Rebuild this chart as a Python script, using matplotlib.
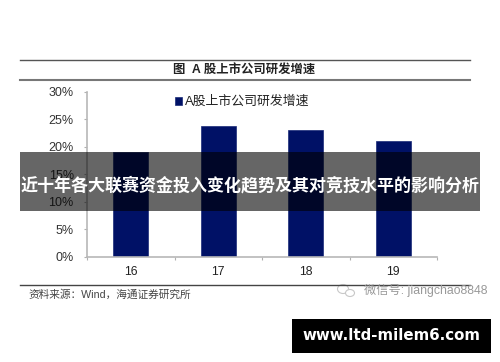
from matplotlib import pyplot as plt
from matplotlib.patches import Rectangle, Ellipse
import numpy as np

plt.rcParams['font.family'] = ['Liberation Sans', 'Noto Sans CJK SC', 'DejaVu Sans']

years = ['16', '17', '18', '19']
growth = [19.1, 23.8, 23.1, 21.0]
y_ticks = [0, 5, 10, 15, 20, 25, 30]

chart_title = '图  A 股上市公司研发增速'
legend_label = 'A股上市公司研发增速'
source_text = '资料来源：Wind，海通证券研究所'
band_text = '近十年各大联赛资金投入变化趋势及其对竞技水平的影响分析'
site_text = 'www.ltd-milem6.com'
wechat_text = '微信号: jiangchao8848'

W, H = 500, 362
fig = plt.figure(figsize=(W / 100, H / 100), dpi=100)

# chart axes, placed in pixels
ax = fig.add_axes([87 / W, 1 - 256.7 / H, 350 / W, 164.7 / H])
x = np.arange(len(years))
bars = ax.bar(x, growth, width=0.4, color='#001166', edgecolor='#1a2a78', linewidth=0.5,
              label=legend_label)
ax.set_xlim(-0.5, 3.5)
ax.set_ylim(0, 30)
ax.set_yticks(y_ticks)
ax.set_yticklabels(['{}%'.format(i) for i in y_ticks], fontsize=9, color='#333333')
ax.set_xticks(x)
ax.set_xticklabels(years, fontsize=8.8, color='#222222')
ax.set_xticks(np.arange(-0.5, 4, 1), minor=True)
ax.tick_params(axis='y', length=2.5, width=0.8, color='#b0b0b0', pad=7)
ax.tick_params(axis='x', which='major', length=0, pad=6.5)
ax.tick_params(axis='x', which='minor', length=2, width=0.8, color='#b0b0b0')
ax.spines['top'].set_visible(False)
ax.spines['right'].set_visible(False)
ax.spines['left'].set_color('#b8b8b8')
ax.spines['bottom'].set_color('#b8b8b8')
ax.spines['left'].set_linewidth(1.2)
ax.spines['bottom'].set_linewidth(1.2)
ax.legend(loc='upper left', bbox_to_anchor=(0.218, 1.047), frameon=False, fontsize=9.3,
          handlelength=0.55, handleheight=0.55, handletextpad=0.2, labelcolor='#222222')

# overlay in pixel coordinates for rules, captions and the banners
ov = fig.add_axes([0, 0, 1, 1], zorder=5)
ov.set_xlim(0, W)
ov.set_ylim(H, 0)
ov.axis('off')
ov.patch.set_alpha(0)

ov.plot([20, 470], [60, 60], color='#555555', lw=1.0)
ov.plot([20, 470], [80, 80], color='#777777', lw=1.5)
ov.plot([20, 470], [284.7, 284.7], color='#444444', lw=1.0)

ov.text(244, 70.5, chart_title, ha='center', va='center', fontsize=8.9,
        fontweight='bold', color='#222222')
ov.text(28, 295, source_text, ha='left', va='center', fontsize=7.7, color='#444444')

ov.add_patch(Ellipse((343, 289), 11, 9, fc='white', ec='#c8c8c8', lw=0.8))
ov.add_patch(Ellipse((350, 293), 9, 7, fc='white', ec='#c8c8c8', lw=0.8))
ov.text(364, 290, wechat_text, ha='left', va='center', fontsize=8.8, color='#999999')

ov.add_patch(Rectangle((20, 152), 460, 59, fc='black', alpha=0.6, ec='none'))
ov.text(250, 185, band_text, ha='center', va='center', fontsize=12.25,
        fontweight='bold', color='white')

ov.add_patch(Rectangle((292, 319), 199, 34, fc='black', ec='none'))
ov.text(391, 336, site_text, ha='center', va='center', fontsize=10.8,
        fontweight='bold', color='white', family='DejaVu Sans')

fig.savefig('out.png', dpi=100)
